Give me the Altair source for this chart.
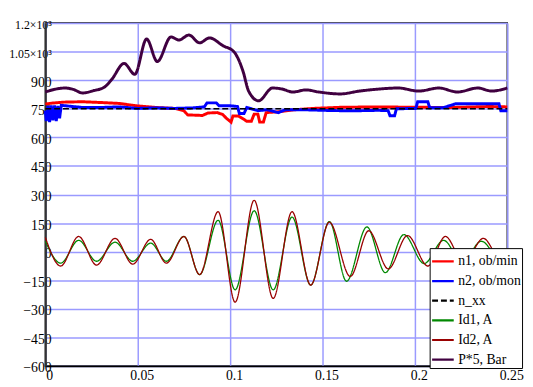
import altair as alt
import pandas as pd

# ---- data ----
series_names = ["n1, ob/min", "n2, ob/mon", "n_xx", "Id1, A", "Id2, A", "P*5, Bar"]
series_colors = ["#ff0000", "#0000ff", "#000000", "#008800", "#990000", "#400040"]
series_dashes = [[1, 0], [1, 0], [6, 3], [1, 0], [1, 0], [1, 0]]

t_n1 = [0, 0.004, 0.01, 0.02, 0.03, 0.04, 0.05, 0.06, 0.07, 0.075,
        0.077, 0.085, 0.088, 0.093, 0.096, 0.098, 0.1005, 0.1015, 0.1045, 0.1065,
        0.109, 0.1115, 0.113, 0.115, 0.116, 0.118, 0.1195, 0.127, 0.135, 0.145,
        0.16, 0.18, 0.2, 0.22, 0.24, 0.25]
v_n1 = [775, 780, 785, 787, 783, 778, 765, 757, 752, 740,
        718, 715, 728, 730, 720, 700, 680, 712, 712, 700,
        685, 685, 722, 722, 680, 680, 730, 735, 745, 752,
        758, 760, 758, 757, 762, 760]

t_n2 = [0, 0.0005, 0.0014, 0.0023, 0.0032, 0.0041, 0.005, 0.0059, 0.0068, 0.0077,
        0.0086, 0.02, 0.03, 0.04, 0.05, 0.06, 0.07, 0.08, 0.086, 0.0875,
        0.0925, 0.094, 0.1, 0.104, 0.105, 0.1075, 0.109, 0.115, 0.12, 0.126,
        0.13, 0.14, 0.15, 0.16, 0.17, 0.18, 0.1855, 0.1865, 0.189, 0.19,
        0.2005, 0.2015, 0.207, 0.208, 0.215, 0.22, 0.222, 0.235, 0.2455, 0.2465,
        0.25]
v_n2 = [740, 685, 765, 680, 768, 690, 768, 685, 765, 700,
        768, 757, 757, 760, 752, 755, 752, 755, 760, 781,
        781, 766, 766, 762, 725, 725, 757, 740, 745, 730,
        745, 745, 742, 740, 740, 742, 740, 714, 714, 750,
        752, 787, 787, 755, 755, 770, 776, 776, 776, 740,
        740]

t_nxx = [0, 0.25]
v_nxx = [750, 750]

t_id1 = [0, 0.0083, 0.018, 0.0277, 0.0377, 0.0473, 0.057, 0.0655, 0.075, 0.0835,
         0.0935, 0.1027, 0.113, 0.1233, 0.1335, 0.1436, 0.1537, 0.163, 0.174, 0.184,
         0.194, 0.205, 0.2155, 0.2255, 0.236, 0.2465, 0.25]
v_id1 = [55, -60, 60, -50, 50, -50, 45, -50, 80, -120,
         165, -200, 215, -200, 182, -175, 158, -155, 130, -110,
         90, -62, 60, -55, 55, -45, -30]

t_id2 = [0, 0.0083, 0.018, 0.0277, 0.0377, 0.0473, 0.057, 0.0655, 0.075, 0.0835,
         0.0935, 0.1027, 0.113, 0.1233, 0.1335, 0.1436, 0.1537, 0.165, 0.175, 0.1856,
         0.196, 0.207, 0.2165, 0.2265, 0.237, 0.2475, 0.25]
v_id2 = [75, -75, 80, -70, 70, -65, 65, -60, 80, -120,
         210, -265, 270, -245, 210, -175, 155, -130, 110, -90,
         85, -75, 80, -60, 70, -60, -50]

t_p = [0, 0.005, 0.0106, 0.015, 0.0202, 0.026, 0.032, 0.036, 0.0426, 0.0484,
       0.0548, 0.0606, 0.068, 0.0723, 0.0777, 0.0835, 0.0888, 0.0963, 0.102, 0.107,
       0.110, 0.1154, 0.1229, 0.128, 0.134, 0.141, 0.148, 0.1596, 0.170, 0.181,
       0.191, 0.202, 0.213, 0.223, 0.234, 0.2415, 0.25]
v_p = [838, 852, 859, 852, 833, 845, 864, 905, 988, 931,
       1116, 998, 1127, 1111, 1137, 1096, 1122, 1080, 1050, 946,
       843, 792, 859, 854, 838, 849, 838, 828, 843, 854,
       859, 843, 859, 838, 859, 843, 859]

x_ticks = [0, 0.05, 0.1, 0.15, 0.2, 0.25]
y_ticks = [-600, -450, -300, -150, 0, 150, 300, 450, 600, 750, 900, 1050, 1200]


def frame(name, ts, vs):
    return pd.DataFrame({"t": ts, "v": vs, "series": name})


df_speed = pd.concat([frame(series_names[0], t_n1, v_n1),
                      frame(series_names[1], t_n2, v_n2)], ignore_index=True)
df_nxx = frame(series_names[2], t_nxx, v_nxx)
df_cur = pd.concat([frame(series_names[3], t_id1, v_id1),
                    frame(series_names[4], t_id2, v_id2)], ignore_index=True)
df_p = frame(series_names[5], t_p, v_p)

FONT = "Liberation Serif, DejaVu Serif, serif"
GRID = "#9a9aff"

legend = alt.Legend(
    title=None, orient="none", legendX=391, legendY=229,
    symbolType="stroke", symbolSize=484, symbolStrokeWidth=2.2,
    labelFont=FONT, labelFontSize=14, labelColor="black",
    fillColor="white", strokeColor="black", padding=1, rowPadding=-4,
    labelOffset=3, labelLimit=300,
)

x_enc = alt.X("t:Q", scale=alt.Scale(domain=[0, 0.25], nice=False, zero=False),
              axis=alt.Axis(values=x_ticks, format="~g", title=None, grid=True,
                            gridColor=GRID, gridWidth=1.5, domainColor="black",
                            domainWidth=1.5, ticks=False, tickSize=0,
                            labelPadding=3, labelOffset=4, labelFont=FONT,
                            labelFontSize=14, labelColor="black",
                            labelFlush=False, labelOverlap=False))
y_enc = alt.Y("v:Q", scale=alt.Scale(domain=[-600, 1200], nice=False, zero=False),
              axis=alt.Axis(values=y_ticks, title=None, grid=True,
                            gridColor=GRID, gridWidth=1.5, domainColor="#333333",
                            domainWidth=2, ticks=False, tickSize=0,
                            labelPadding=-6, labelOffset=2,
                            labelBaseline="middle", labelFont=FONT,
                            labelFontSize={"condition": {"test": "datum.value >= 1050", "value": 12}, "value": 14},
                            labelColor="black",
                            labelFlush=False, labelOverlap=False,
                            labelExpr="datum.value == 1200 ? '1.2×10³' : datum.value == 1050 ? '1.05×10³' : replace(format(datum.value, 'd'), '-', '−')"))

color_enc = alt.Color("series:N", scale=alt.Scale(domain=series_names, range=series_colors), legend=legend)
dash_enc = alt.StrokeDash("series:N", scale=alt.Scale(domain=series_names, range=series_dashes), legend=legend)


def layer(df, interp, width):
    return alt.Chart(df).mark_line(interpolate=interp, strokeWidth=width).encode(
        x=x_enc, y=y_enc, color=color_enc, strokeDash=dash_enc)


chart = alt.layer(
    layer(df_cur, "monotone", 1.3),
    layer(df_speed, "linear", 3),
    layer(df_nxx, "linear", 1.5),
    layer(df_p, "monotone", 3),
).properties(
    width=470, height=349,
    autosize=alt.AutoSizeParams(type="none"),
    padding={"left": 38, "top": 12, "right": 18, "bottom": 18},
    background="white",
).configure_view(stroke="black", strokeWidth=1.5)

chart.save("out.html", embed_options={"renderer": "svg", "actions": False})
